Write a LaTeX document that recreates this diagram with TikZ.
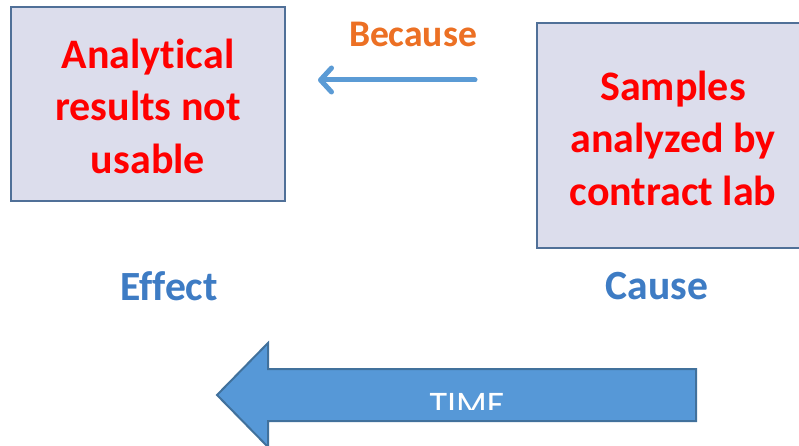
\documentclass[tikz,border=0pt]{standalone}
\usepackage{fontspec}
\setmainfont[Ligatures=NoCommon]{Carlito}
\usepackage[outline]{contour}
\usetikzlibrary{arrows.meta}

\definecolor{boxfill}{RGB}{220,221,236}
\definecolor{boxline}{RGB}{80,112,152}
\definecolor{linkblue}{RGB}{91,155,213}
\definecolor{timefill}{RGB}{86,152,215}
\definecolor{timeline}{RGB}{65,113,156}
\definecolor{labelblue}{RGB}{62,124,196}
\definecolor{glowblue}{RGB}{196,216,240}
\definecolor{becauseorange}{RGB}{236,112,36}
\definecolor{gloworange}{RGB}{250,214,186}

\contourlength{1.3pt}

\tikzset{
  eventbox/.style={fill=boxfill, draw=boxline, line width=2pt},
  eventtext/.style={text=red, font=\bfseries\fontsize{42}{52.5}\selectfont, align=center, inner sep=0pt},
  sidelabel/.style={text=labelblue, font=\bfseries\fontsize{41.5}{44}\selectfont, inner sep=0pt},
  linklabel/.style={text=becauseorange, font=\bfseries\fontsize{37.5}{40}\selectfont, inner sep=0pt},
  linkarrow/.style={draw=linkblue, line width=5pt, line cap=round,
    -{Straight Barb[length=11pt,width=24pt,line cap=round,line join=round]}},
  timearrow/.style={fill=timefill, draw=timeline, line width=2pt, line join=miter},
}

\begin{document}
\begin{tikzpicture}[x=1pt,y=-1pt]
  \useasboundingbox (0,0) rectangle (799,446);
  \clip (0,0) rectangle (799,446);

  % effect box and cause box
  \path[eventbox] (11,7) rectangle (285,201);
  \node[eventtext] (effectbox) at (148,106) {Analytical\\results not\\usable};
  \path[eventbox] (537,23) rectangle (812,248);
  \node[eventtext] (causebox) at (673,138) {Samples\\analyzed by\\contract lab};

  % "Because" link from cause to effect
  \node[linklabel] (because) at (413,34) {\contour{gloworange}{Because}};
  \coordinate (linkstart) at (475,80);
  \coordinate (linkend) at (318,80);
  \draw[linkarrow] (linkstart) -- (linkend);

  % side labels
  \node[sidelabel] (effect) at (169,286) {\contour{glowblue}{Effect}};
  \node[sidelabel] (cause) at (657,286) {\contour{glowblue}{Cause}};

  % time arrow
  \path[timearrow] (696,369) -- (268,369) -- (268,343) -- (217,395)
    -- (268,447) -- (268,421) -- (696,421) -- cycle;
  \begin{scope}
    \clip (300,360) rectangle (690,409);
    \node[text=white, font=\fontsize{36}{40}\selectfont, inner sep=0pt, anchor=base] (time) at (467,416) {TIME};
  \end{scope}
\end{tikzpicture}
\end{document}
